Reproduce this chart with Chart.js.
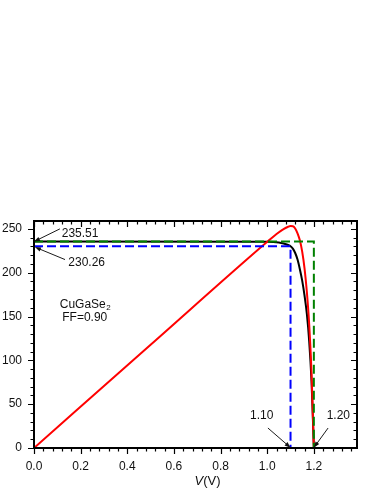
<!DOCTYPE html>
<html>
<head>
<meta charset="utf-8">
<script src="https://cdn.jsdelivr.net/npm/chart.js@4/dist/chart.umd.min.js"></script>
<style>
  body { margin: 0; background: #fff; }
  #wrap { width: 380px; height: 492px; }
</style>
</head>
<body>
<div id="wrap"><canvas id="jv" width="380" height="492"></canvas></div>
<script>
// J-V curve (black), power curve (red), Jsc*Voc box (green), Jmp*Vmp box (blue)
const vBlack = [0, 1.0, 1.05, 1.07, 1.09, 1.10, 1.11, 1.12, 1.13, 1.14, 1.15, 1.16, 1.17, 1.18, 1.19, 1.195, 1.2];
const jBlack = [235.51, 235.3, 234.5, 233.4, 231.6, 230.26, 227.5, 222.5, 215, 204, 191, 174, 153, 122, 76, 40, 0];

const vRed = [0, 0.5, 1.0, 1.04, 1.07, 1.09, 1.10, 1.11, 1.12, 1.13, 1.14, 1.15, 1.16, 1.17, 1.18, 1.19, 1.2];
const pRed = [0, 117.8, 235.3, 244.2, 249.8, 252.5, 253.2, 253.0, 250.5, 245, 237, 224, 205, 178, 141, 86, 0];

const vGreen = [0, 1.2, 1.2];
const jGreen = [235.51, 235.51, 0];

const vBlue = [0, 1.1, 1.1];
const jBlue = [230.26, 230.26, 0];

const xTicks = [0, 0.2, 0.4, 0.6, 0.8, 1.0, 1.2];
const yTicks = [0, 50, 100, 150, 200, 250];

// annotations: text + arrow (data coordinates)
const notes = [
  { text: '235.51', x: 0.119, y: 244.5, from: [0.111, 250], to: [0, 235.51] },
  { text: '230.26', x: 0.147, y: 211, from: [0.133, 215], to: [0.004, 229.2] },
  { text: '1.10', x: 0.926, y: 36.5, from: [1.003, 22.8], to: [1.1, 0.4] },
  { text: '1.20', x: 1.255, y: 36.5, from: [1.261, 22.8], to: [1.2, 0.4] }
];

function pts(xs, ys) {
  return xs.map((x, i) => ({ x: x, y: ys[i] }));
}

const FONT = '"Liberation Sans", Arial, sans-serif';

const framePlugin = {
  id: 'frame',
  afterDatasetsDraw(chart) {
    const ctx = chart.ctx;
    const a = chart.chartArea;
    const xs = chart.scales.x;
    const ys = chart.scales.y;
    ctx.save();
    ctx.strokeStyle = '#000';

    // ticks
    ctx.lineWidth = 1.2;
    ctx.beginPath();
    for (let i = 0; i <= 34; i++) {
      const v = i * 0.04;
      if (v > xs.max) break;
      const px = Math.round(xs.getPixelForValue(v)) + 0.5;
      const len = (i % 5 === 0) ? 6 : 3.5;
      ctx.moveTo(px, a.bottom); ctx.lineTo(px, a.bottom + len);
      ctx.moveTo(px, a.top); ctx.lineTo(px, a.top + len);
    }
    for (let i = 0; i <= 26; i++) {
      const v = i * 10;
      if (v > ys.max) break;
      const py = Math.round(ys.getPixelForValue(v)) + 0.5;
      const len = (i % 5 === 0) ? 6 : 3.5;
      ctx.moveTo(a.left, py); ctx.lineTo(a.left - len, py);
      ctx.moveTo(a.right, py); ctx.lineTo(a.right - len, py);
    }
    ctx.stroke();

    // frame
    ctx.lineWidth = 2;
    ctx.strokeRect(a.left, a.top, a.right - a.left, a.bottom - a.top);

    // annotations
    ctx.fillStyle = '#111';
    ctx.font = '12px ' + FONT;
    ctx.textBaseline = 'middle';
    ctx.textAlign = 'left';
    notes.forEach(n => {
      ctx.fillText(n.text, xs.getPixelForValue(n.x), ys.getPixelForValue(n.y));
      const x1 = xs.getPixelForValue(n.from[0]), y1 = ys.getPixelForValue(n.from[1]);
      const x2 = xs.getPixelForValue(n.to[0]), y2 = ys.getPixelForValue(n.to[1]);
      const ang = Math.atan2(y2 - y1, x2 - x1);
      ctx.lineWidth = 0.9;
      ctx.beginPath();
      ctx.moveTo(x1, y1);
      ctx.lineTo(x2 - 5 * Math.cos(ang), y2 - 5 * Math.sin(ang));
      ctx.stroke();
      ctx.beginPath();
      ctx.moveTo(x2, y2);
      ctx.lineTo(x2 - 6 * Math.cos(ang) + 2.2 * Math.sin(ang), y2 - 6 * Math.sin(ang) - 2.2 * Math.cos(ang));
      ctx.lineTo(x2 - 6 * Math.cos(ang) - 2.2 * Math.sin(ang), y2 - 6 * Math.sin(ang) + 2.2 * Math.cos(ang));
      ctx.closePath();
      ctx.fill();
    });

    // sample label
    ctx.textAlign = 'center';
    const cx = xs.getPixelForValue(0.222);
    const label = 'CuGaSe';
    const w = ctx.measureText(label).width;
    const yl = ys.getPixelForValue(164);
    ctx.fillText(label, cx - 3, yl);
    ctx.font = '8px ' + FONT;
    ctx.textAlign = 'left';
    ctx.fillText('2', cx - 3 + w / 2 + 0.5, yl + 4);
    ctx.font = '12px ' + FONT;
    ctx.textAlign = 'center';
    ctx.fillText('FF=0.90', cx - 1, ys.getPixelForValue(148.5));

    // x axis title: italic V + (V)
    const ty = 481;
    const tx = (a.left + a.right) / 2 + 12;
    ctx.font = 'italic 13px ' + FONT;
    const wv = ctx.measureText('V').width;
    ctx.font = '13px ' + FONT;
    const wr = ctx.measureText('(V)').width;
    const start = tx - (wv + wr) / 2;
    ctx.textAlign = 'left';
    ctx.font = 'italic 13px ' + FONT;
    ctx.fillText('V', start, ty);
    ctx.font = '13px ' + FONT;
    ctx.fillText('(V)', start + wv, ty);

    ctx.restore();
  }
};

new Chart(document.getElementById('jv').getContext('2d'), {
  type: 'line',
  data: {
    datasets: [{
      label: 'Jsc x Voc',
      data: pts(vGreen, jGreen),
      borderColor: '#008000',
      borderWidth: 2,
      borderDash: [9, 4]
    }, {
      label: 'Jmp x Vmp',
      data: pts(vBlue, jBlue),
      borderColor: '#0000ff',
      borderWidth: 2,
      borderDash: [9, 4]
    }, {
      label: 'P',
      data: pts(vRed, pRed),
      borderColor: '#ff0000',
      borderWidth: 2,
      cubicInterpolationMode: 'monotone'
    }, {
      label: 'J',
      data: pts(vBlack, jBlack),
      borderColor: '#000000',
      borderWidth: 2,
      cubicInterpolationMode: 'monotone'
    }]
  },
  options: {
    responsive: false,
    animation: false,
    devicePixelRatio: 1,
    layout: { padding: { top: 221, right: 23, left: 0, bottom: 0 } },
    elements: { point: { radius: 0 }, line: { fill: false } },
    plugins: { legend: { display: false }, tooltip: { enabled: false } },
    scales: {
      x: {
        type: 'linear',
        min: 0,
        max: 1.385,
        grid: { display: false, drawTicks: false },
        border: { display: false },
        afterFit: s => { s.height = 44; },
        afterBuildTicks: s => { s.ticks = xTicks.map(v => ({ value: v })); },
        ticks: {
          padding: 11,
          color: '#111',
          font: { family: FONT, size: 12 },
          maxRotation: 0,
          callback: v => v.toFixed(1)
        }
      },
      y: {
        type: 'linear',
        min: 0,
        max: 259,
        grid: { display: false, drawTicks: false },
        border: { display: false },
        afterFit: s => { s.width = 34; },
        afterBuildTicks: s => { s.ticks = yTicks.map(v => ({ value: v })); },
        ticks: {
          padding: 12,
          color: '#111',
          font: { family: FONT, size: 12 }
        }
      }
    }
  },
  plugins: [framePlugin]
});
</script>
</body>
</html>
